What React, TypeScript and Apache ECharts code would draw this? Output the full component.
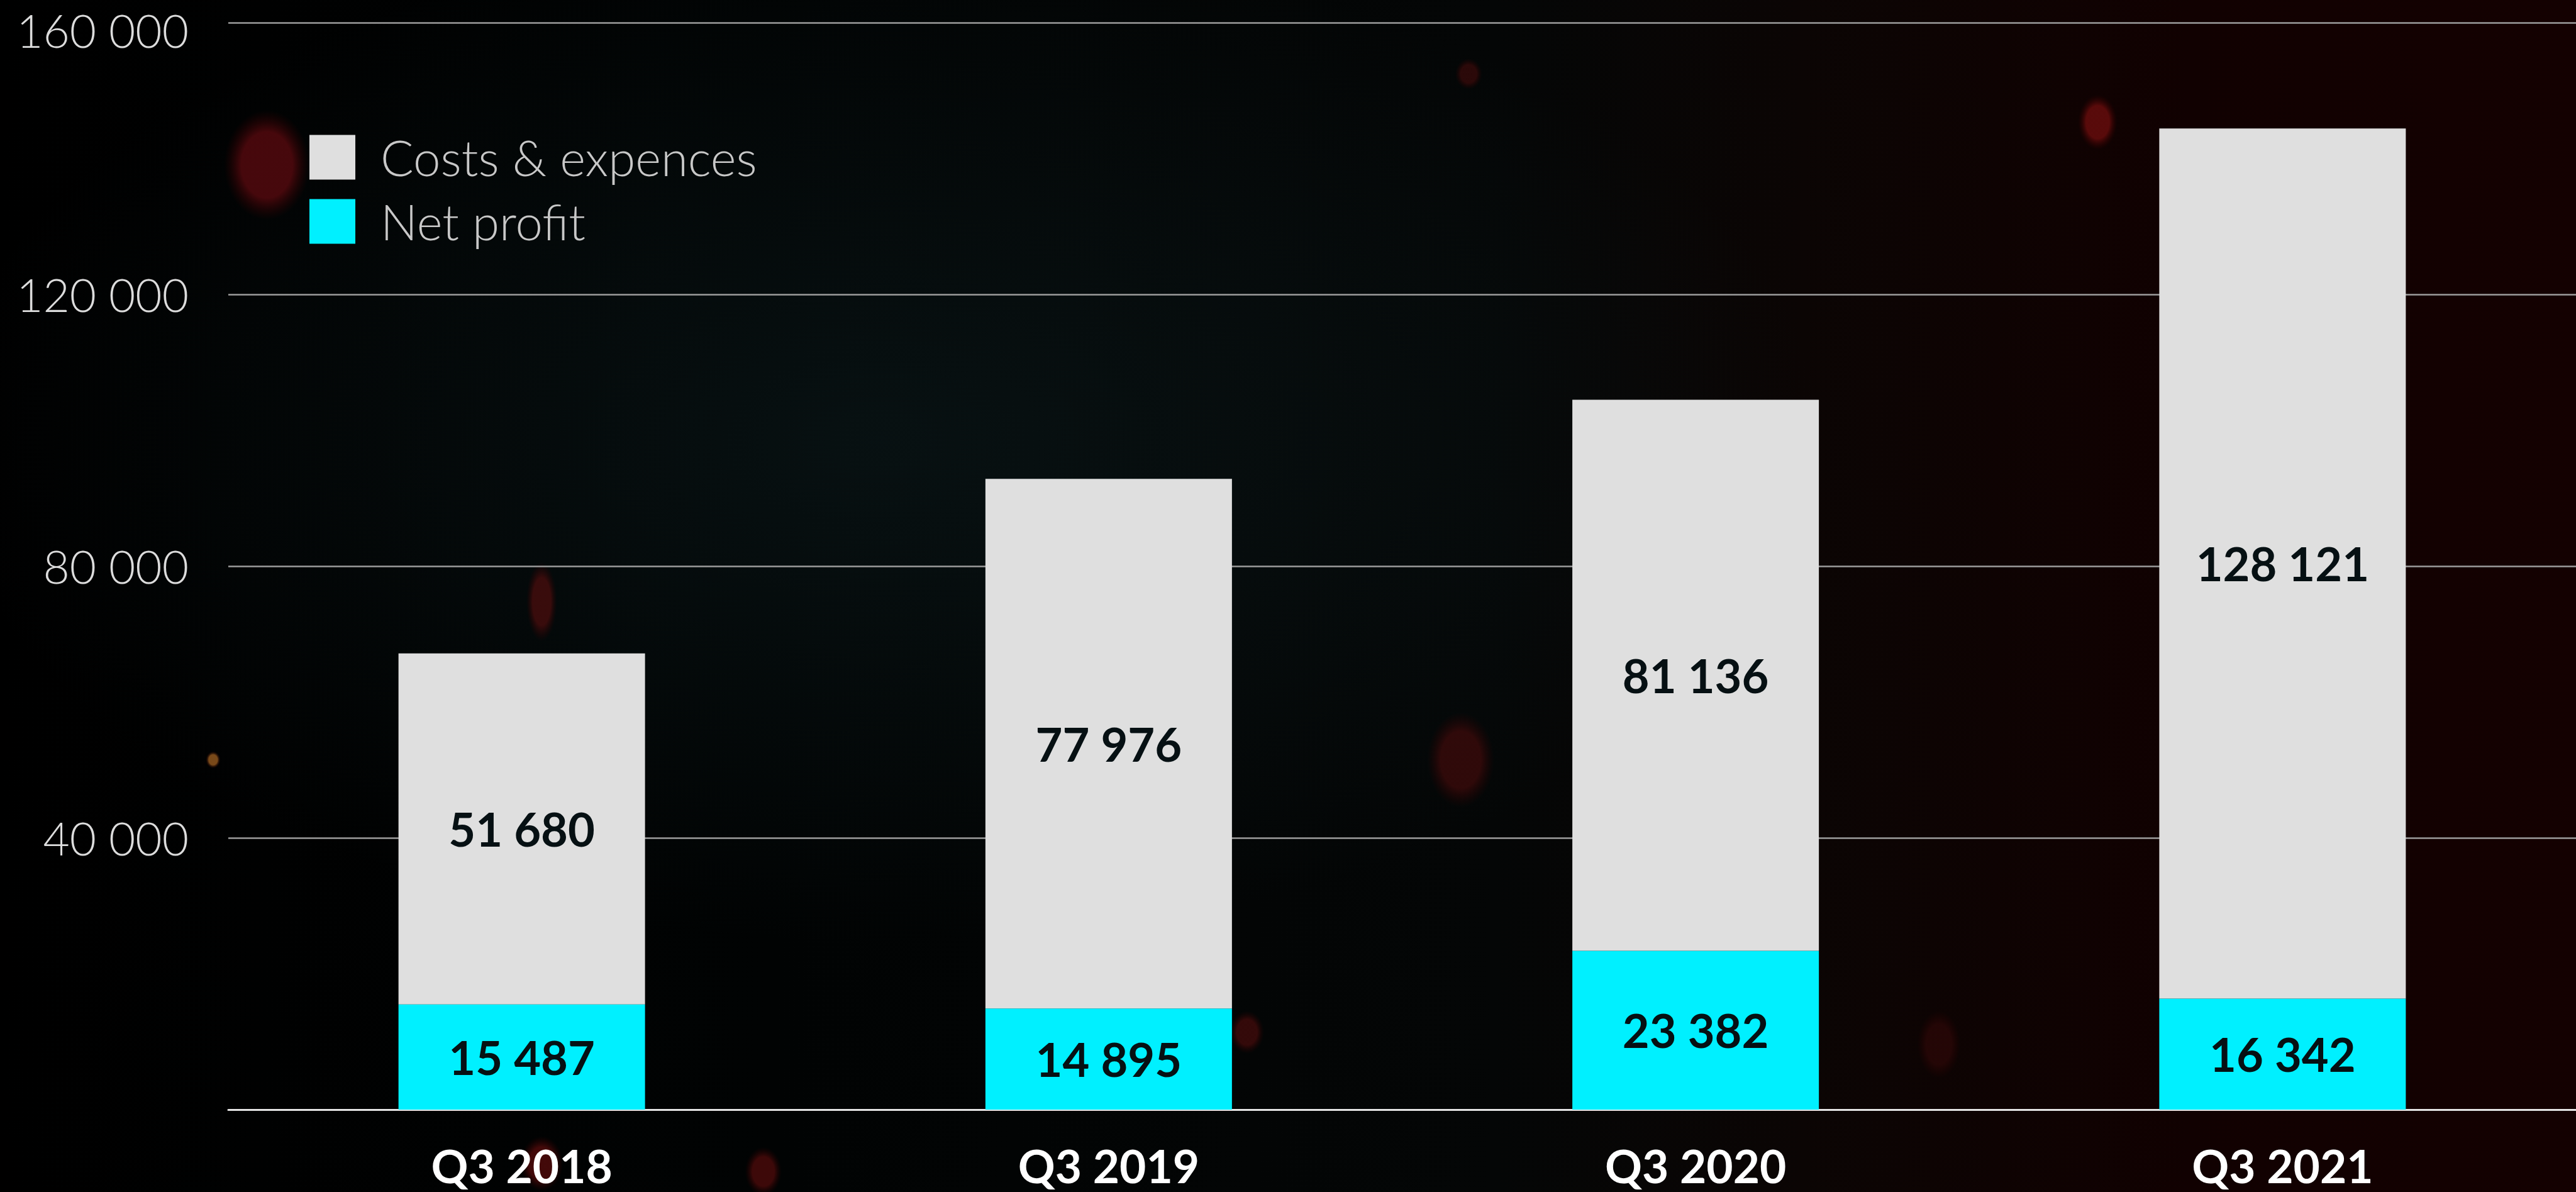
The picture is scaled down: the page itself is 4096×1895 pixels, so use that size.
import React, { useEffect, useRef } from "react";
import * as echarts from "echarts";

const categories = ["Q3 2018", "Q3 2019", "Q3 2020", "Q3 2021"];
const netProfit = [15487, 14895, 23382, 16342];
const costs = [51680, 77976, 81136, 128121];
const yTicks = [0, 40000, 80000, 120000, 160000];
const yTickLabels = ["", "40 000", "80 000", "120 000", "160 000"];
const seriesNames = ["Costs & expences", "Net profit"];

const S = 0.971;
const W = 4096;
const H = 1895;

const fmt = (v: number) => String(v).replace(/\B(?=(\d{3})+(?!\d))/g, " ");

// decorative bokeh blobs (full-size reference coords)
const blobs = [
  { x: 437, y: 270, rx: 70, ry: 90, c: "rgba(100,10,16,0.7)" },
  { x: 3435, y: 200, rx: 32, ry: 45, c: "rgba(120,14,14,0.7)" },
  { x: 887, y: 985, rx: 25, ry: 65, c: "rgba(100,14,14,0.55)" },
  { x: 2392, y: 1244, rx: 55, ry: 78, c: "rgba(90,12,12,0.5)" },
  { x: 349, y: 1244, rx: 12, ry: 14, c: "rgba(200,120,40,0.6)" },
  { x: 887, y: 1905, rx: 35, ry: 45, c: "rgba(110,14,14,0.6)" },
  { x: 1250, y: 1918, rx: 30, ry: 40, c: "rgba(110,14,14,0.55)" },
  { x: 2042, y: 1690, rx: 28, ry: 35, c: "rgba(100,14,14,0.5)" },
  { x: 2405, y: 121, rx: 22, ry: 25, c: "rgba(90,12,12,0.45)" },
  { x: 3175, y: 1710, rx: 35, ry: 55, c: "rgba(70,10,10,0.4)" },
];

export default function App() {
  const ref = useRef<HTMLDivElement>(null);
  useEffect(() => {
    document.body.style.margin = "0";
    const chart = echarts.init(ref.current!, null, { renderer: "svg" });
    const graphics: any[] = [
      {
        type: "ellipse",
        z: -10,
        silent: true,
        shape: { cx: 1400, cy: 700, rx: 1500, ry: 800 },
        style: {
          fill: new echarts.graphic.RadialGradient(0.5, 0.5, 0.5, [
            { offset: 0, color: "rgba(22,48,52,0.3)" },
            { offset: 1, color: "rgba(22,48,52,0)" },
          ]),
        },
      },
      ...blobs.map((b) => ({
        type: "ellipse",
        z: -9,
        silent: true,
        shape: { cx: b.x * S, cy: b.y * S, rx: b.rx * S, ry: b.ry * S },
        style: {
          fill: new echarts.graphic.RadialGradient(0.5, 0.5, 0.5, [
            { offset: 0, color: b.c },
            { offset: 0.6, color: b.c },
            { offset: 1, color: "rgba(60,0,0,0)" },
          ]),
        },
      })),
    ];
    const yLabelStyle = {
      color: "#dcdcdc",
      fontFamily: "Lato",
      fontWeight: 300,
      fontSize: 73,
    };
    chart.setOption({
      animation: false,
      backgroundColor: new echarts.graphic.LinearGradient(0, 0, 1, 0, [
        { offset: 0, color: "#000000" },
        { offset: 0.3, color: "#010303" },
        { offset: 0.58, color: "#040606" },
        { offset: 0.7, color: "#0b0504" },
        { offset: 0.85, color: "#110101" },
        { offset: 1, color: "#140101" },
      ]),
      graphic: graphics,
      legend: {
        data: seriesNames,
        orient: "vertical",
        left: 487,
        top: 206,
        itemWidth: 73,
        itemHeight: 71,
        itemGap: 24,
        icon: "rect",
        selectedMode: false,
        textStyle: {
          color: "#c8c8c8",
          fontFamily: "Lato",
          fontWeight: 300,
          fontSize: 78,
          padding: [0, 0, 0, 35],
        },
      },
      grid: {
        left: 363,
        right: 0,
        top: 36.5,
        bottom: 131,
        containLabel: false,
        outerBoundsMode: "none",
      },
      xAxis: {
        type: "category",
        data: categories,
        axisLine: { show: true, lineStyle: { color: "#e6e6e6", width: 3 } },
        axisTick: { show: false },
        axisLabel: {
          color: "#ffffff",
          fontFamily: "Lato",
          fontWeight: "bold",
          fontSize: 73,
          margin: 52,
        },
      },
      yAxis: {
        type: "value",
        min: 0,
        max: 160000,
        interval: 40000,
        axisLine: { show: false },
        axisTick: { show: false },
        splitLine: { lineStyle: { color: "#9c9c9c", width: 2.5 } },
        axisLabel: {
          ...yLabelStyle,
          lineHeight: 60,
          margin: 63,
          rich: {
            top: { ...yLabelStyle, lineHeight: 40, padding: [22, 0, 0, 0] },
          },
          formatter: (v: number) => {
            const i = yTicks.indexOf(v);
            if (i < 0) return "";
            return v === yTicks[yTicks.length - 1]
              ? "{top|" + yTickLabels[i] + "}"
              : yTickLabels[i];
          },
        },
      },
      series: [
        {
          name: "Net profit",
          type: "bar",
          stack: "total",
          data: netProfit,
          barWidth: 392,
          itemStyle: { color: "#00f0ff" },
          label: {
            show: true,
            position: "inside",
            color: "#061013",
            fontFamily: "Lato",
            fontWeight: "bold",
            fontSize: 74,
            formatter: (p: any) => fmt(p.value),
          },
        },
        {
          name: "Costs & expences",
          type: "bar",
          stack: "total",
          data: costs,
          barWidth: 392,
          itemStyle: { color: "#dfdfdf" },
          label: {
            show: true,
            position: "inside",
            color: "#061013",
            fontFamily: "Lato",
            fontWeight: "bold",
            fontSize: 74,
            formatter: (p: any) => fmt(p.value),
          },
        },
      ],
    });
    return () => chart.dispose();
  }, []);
  return (
    <div
      ref={ref}
      style={{ position: "fixed", left: 0, top: 0, width: W, height: H }}
    />
  );
}
